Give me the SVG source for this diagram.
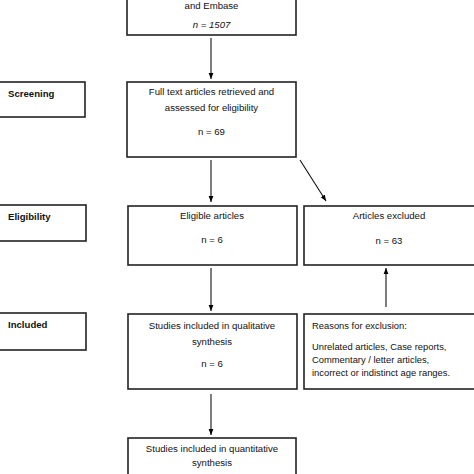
<svg xmlns="http://www.w3.org/2000/svg" width="474" height="474" viewBox="0 0 474 474">
<defs>
<marker id="ah" viewBox="0 0 10 10" refX="10" refY="5" markerWidth="6" markerHeight="6" orient="auto" markerUnits="userSpaceOnUse">
<path d="M0,1 L10,5 L0,9 z" fill="#000"/>
</marker>
<style>
.box{fill:#fff;stroke:#222;stroke-width:1.6}
.t{font-family:"Liberation Sans",Arial,sans-serif;font-size:9.6px;fill:#111;text-anchor:middle}
.l{font-family:"Liberation Sans",Arial,sans-serif;font-size:9.4px;fill:#111}
.b{font-family:"Liberation Sans",Arial,sans-serif;font-size:9.6px;font-weight:bold;fill:#111}
.c{stroke:#111;stroke-width:1.1;fill:none;marker-end:url(#ah)}
</style>
</defs>
<rect width="474" height="474" fill="#fff"/>
<g id="connectors">
<line class="c" x1="211" y1="38" x2="211" y2="79"/>
<line class="c" x1="211" y1="160" x2="211" y2="202"/>
<line class="c" x1="300" y1="160" x2="326" y2="201"/>
<line class="c" x1="211" y1="268" x2="211" y2="311"/>
<line class="c" x1="386" y1="307" x2="386" y2="268"/>
<line class="c" x1="211" y1="394" x2="211" y2="435"/>
</g>
<g id="identification">
<rect class="box" x="127" y="-10" width="169" height="45"/>
<text class="t" x="211.5" y="8.5">and Embase</text>
<text class="t" x="211.5" y="28" font-style="italic">n = 1507</text>
</g>
<g id="screening-label">
<rect class="box" x="-2" y="82" width="87" height="35"/>
<text class="b" x="8" y="97">Screening</text>
</g>
<g id="fulltext">
<rect class="box" x="127" y="82" width="169" height="75"/>
<text class="t" x="211.5" y="95">Full text articles retrieved and</text>
<text class="t" x="211.5" y="111">assessed for eligibility</text>
<text class="t" x="211.5" y="135">n = 69</text>
</g>
<g id="eligibility-label">
<rect class="box" x="-2" y="205" width="88" height="36"/>
<text class="b" x="8" y="220">Eligibility</text>
</g>
<g id="eligible">
<rect class="box" x="128" y="206" width="169" height="59"/>
<text class="t" x="212" y="219">Eligible articles</text>
<text class="t" x="212" y="243">n = 6</text>
</g>
<g id="excluded">
<rect class="box" x="304" y="206" width="174" height="59"/>
<text class="t" x="389" y="219">Articles excluded</text>
<text class="t" x="389" y="244">n = 63</text>
</g>
<g id="included-label">
<rect class="box" x="-2" y="313" width="88" height="37"/>
<text class="b" x="8" y="328">Included</text>
</g>
<g id="qualitative">
<rect class="box" x="128" y="314" width="169" height="75"/>
<text class="t" x="212" y="329">Studies included in qualitative</text>
<text class="t" x="212" y="345">synthesis</text>
<text class="t" x="212" y="367">n = 6</text>
</g>
<g id="reasons">
<rect class="box" x="304" y="314" width="174" height="75"/>
<text class="l" x="312" y="329">Reasons for exclusion:</text>
<text class="l" x="312" y="350">Unrelated articles, Case reports,</text>
<text class="l" x="312" y="363">Commentary / letter articles,</text>
<text class="l" x="312" y="376">incorrect or indistinct age ranges.</text>
</g>
<g id="quantitative">
<rect class="box" x="128" y="438" width="168" height="50"/>
<text class="t" x="212" y="452">Studies included in quantitative</text>
<text class="t" x="212" y="466">synthesis</text>
</g>
</svg>
